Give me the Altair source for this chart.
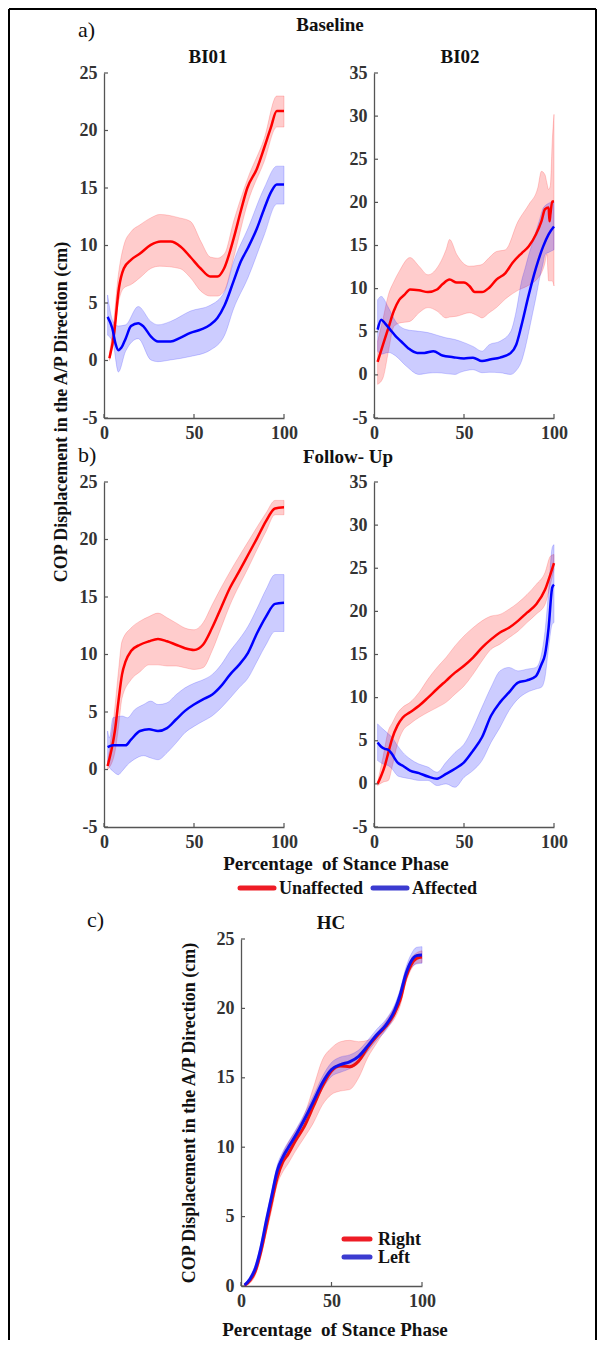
import altair as alt
import pandas as pd

FONT = "Liberation Serif"
RED = "#ff0000"
BLUE = "#0000ff"
AXC = "#555555"
LBL = "#333333"
TXT = "#111111"

# ---------------- a) Baseline, BI01 ----------------
a1_red_x = [3, 5.5, 8.3, 11, 15, 20, 26, 31.5, 37, 42.6, 48, 53.7, 59, 63, 66.7, 72, 76, 79.6, 85, 89, 92.6, 96, 100]
a1_red_m = [0.2, 2.2, 6.3, 8.0, 8.75, 9.3, 10.05, 10.35, 10.35, 9.9, 9.0, 8.0, 7.3, 7.3, 8.0, 10.6, 13.0, 15.0, 16.7, 18.5, 20.2, 21.7, 21.7]
a1_redb_x = [3, 5, 8, 11, 15, 20, 26, 31, 42, 48, 54, 59, 63, 67, 72, 80, 89, 96, 100]
a1_red_up = [0.6, 2.8, 7.5, 10.0, 11.2, 11.8, 12.4, 12.7, 12.4, 12.1, 10.3, 9.0, 8.9, 9.3, 12.1, 15.9, 19.3, 23.0, 23.0]
a1_red_lo = [0.0, 1.4, 5.0, 6.3, 6.6, 7.2, 8.0, 8.2, 8.0, 7.2, 6.0, 5.6, 5.6, 6.1, 8.9, 13.8, 17.3, 20.3, 20.3]
a1_blue_x = [2, 4.6, 6.5, 8, 9.6, 12, 15, 19, 22, 26, 30, 37, 42, 48, 54, 59, 63, 67, 72, 76, 80, 85, 89, 93, 96, 100]
a1_blue_m = [3.8, 2.8, 1.4, 0.9, 1.1, 1.9, 3.0, 3.25, 2.95, 2.1, 1.65, 1.65, 1.95, 2.4, 2.7, 3.1, 3.7, 4.8, 6.9, 8.6, 9.8, 11.5, 13.2, 14.7, 15.3, 15.3]
a1_blueb_x = [2, 5, 8, 12, 19, 26, 30, 37, 48, 59, 67, 72, 80, 89, 96, 100]
a1_blue_up = [5.7, 3.4, 3.0, 3.1, 4.7, 3.4, 3.1, 3.4, 4.3, 4.8, 6.0, 8.6, 11.5, 15.0, 16.9, 16.9]
a1_blue_lo = [2.2, 1.5, -1.0, 0.8, 1.9, 0.05, -0.1, 0.05, 0.35, 0.9, 2.2, 4.5, 7.2, 10.9, 13.6, 13.6]

# ---------------- a) Baseline, BI02 ----------------
a2_red_x = [2, 5, 8, 11, 14, 17, 20, 25, 30, 35, 38, 42, 46, 50, 53, 56, 60, 64, 68, 73, 77, 82, 86, 90, 93, 95, 97, 97.5, 98, 99, 100]
a2_red_m = [1.5, 3.5, 5.45, 7.4, 8.7, 9.3, 9.9, 9.8, 9.6, 9.9, 10.5, 11.05, 10.7, 10.7, 10.3, 9.6, 9.6, 10.1, 11.05, 11.8, 13.0, 14.1, 14.9, 16.3, 17.8, 19.2, 19.4, 17.8, 18.6, 20.1, 20.1]
a2_redb_x = [2, 5, 8, 11, 14, 20, 25, 30, 35, 40, 42, 46, 53, 58, 60, 64, 68, 73, 80, 86, 91, 93, 95, 96, 97, 98, 99, 100]
a2_red_up = [3.9, 6.5, 9.3, 10.8, 12.0, 13.6, 12.6, 11.6, 12.4, 14.5, 15.7, 13.95, 12.6, 12.7, 12.8, 13.6, 14.3, 14.5, 17.8, 19.75, 21.7, 23.6, 23.2, 22.3, 21.5, 22.0, 27.0, 30.2]
a2_red_lo = [-1.1, -0.35, 2.7, 5.6, 6.0, 6.2, 7.2, 7.8, 7.4, 6.6, 6.7, 6.8, 7.2, 6.8, 6.6, 7.2, 7.8, 8.8, 9.8, 10.4, 11.2, 11.8, 13.0, 14.0, 10.9, 10.9, 10.9, 10.3]
a2_blue_x = [2, 4, 6, 9, 12, 15, 19, 24, 28, 33, 38, 44, 50, 55, 60, 65, 70, 76, 79, 82, 86, 90, 94, 97, 100]
a2_blue_m = [5.25, 6.4, 6.0, 5.25, 4.5, 3.9, 3.1, 2.55, 2.55, 2.75, 2.25, 2.05, 1.9, 2.0, 1.6, 1.8, 2.0, 2.55, 3.5, 5.8, 9.3, 12.4, 14.9, 16.3, 17.2]
a2_blueb_x = [2, 4, 8, 12, 18, 25, 30, 35, 40, 45, 48, 55, 60, 64, 70, 76, 79, 82, 84, 86, 88, 90, 92, 94, 95, 97, 98, 100]
a2_blue_up = [8.7, 9.1, 7.8, 6.2, 5.25, 5.05, 4.9, 4.6, 4.3, 4.1, 3.9, 3.3, 2.75, 3.5, 3.9, 5.05, 7.4, 10.9, 12.4, 13.95, 15.3, 16.65, 18.0, 19.35, 19.6, 19.9, 20.0, 20.1]
a2_blue_lo = [2.75, 2.4, 2.6, 2.2, 1.0, 0.05, 0.2, 0.25, 0.15, 0.05, 0.3, 0.6, 0.25, 0.3, 0.25, 0.05, 0.5, 1.6, 3.1, 5.0, 7.0, 9.0, 11.2, 13.0, 13.95, 14.2, 14.3, 14.5]

# ---------------- b) Follow-Up, BI01 ----------------
b1_red_x = [2, 4, 6, 8, 10, 12, 15, 20, 25, 30, 35, 40, 45, 50, 55, 60, 65, 70, 75, 80, 85, 90, 95, 100]
b1_red_m = [0.3, 1.6, 3.3, 5.9, 8.25, 9.4, 10.3, 10.85, 11.15, 11.35, 11.15, 10.85, 10.55, 10.4, 10.85, 12.3, 14.05, 15.8, 17.2, 18.65, 20.1, 21.6, 22.7, 22.8]
b1_redb_x = [2, 6, 8, 10, 15, 20, 25, 30, 35, 40, 45, 50, 55, 60, 65, 70, 80, 90, 95, 100]
b1_red_up = [0.7, 5.35, 8.5, 11.15, 12.3, 12.9, 13.3, 13.6, 13.2, 12.75, 12.3, 12.15, 12.75, 14.3, 15.8, 17.2, 19.8, 22.3, 23.4, 23.4]
b1_red_lo = [0.0, 1.45, 3.6, 6.2, 7.8, 8.5, 9.1, 9.1, 9.0, 9.0, 8.85, 8.7, 8.85, 10.3, 12.3, 14.3, 17.5, 20.7, 22.15, 22.15]
b1_blue_x = [2, 5, 8, 12, 15, 20, 25, 30, 35, 40, 45, 50, 55, 60, 65, 70, 75, 80, 85, 90, 95, 100]
b1_blue_m = [1.95, 2.1, 2.1, 2.1, 2.6, 3.35, 3.5, 3.35, 3.6, 4.35, 5.1, 5.65, 6.1, 6.5, 7.25, 8.25, 9.1, 10.15, 11.85, 13.3, 14.4, 14.5]
b1_blueb_x = [2, 3, 5, 8, 10, 13, 17, 22, 26, 30, 35, 40, 45, 50, 55, 60, 65, 70, 75, 80, 85, 90, 95, 100]
b1_blue_up = [3.35, 2.75, 4.5, 4.6, 4.65, 4.5, 5.2, 5.65, 5.95, 5.65, 5.8, 6.5, 7.1, 7.5, 7.8, 8.25, 9.1, 10.3, 11.3, 12.45, 14.0, 15.65, 16.95, 16.95]
b1_blue_lo = [0.7, 0.2, -0.15, -0.45, -0.15, 0.4, 0.9, 1.2, 1.0, 0.85, 1.45, 2.3, 3.2, 3.75, 4.2, 4.65, 5.35, 6.2, 7.1, 7.95, 9.4, 10.85, 12.0, 12.0]

# ---------------- b) Follow-Up, BI02 ----------------
b2_red_x = [2, 4, 6, 8, 10, 13, 16, 20, 25, 30, 35, 40, 45, 50, 55, 60, 65, 70, 75, 80, 85, 90, 95, 98, 100]
b2_red_m = [0.0, 0.95, 2.1, 3.65, 5.2, 6.75, 7.7, 8.3, 9.05, 10.0, 11.0, 11.95, 12.9, 13.7, 14.65, 15.8, 16.75, 17.55, 18.1, 18.9, 19.85, 20.8, 22.5, 24.3, 25.6]
b2_redb_x = [2, 5, 8, 10, 13, 16, 20, 25, 30, 35, 40, 45, 50, 55, 60, 65, 70, 75, 80, 85, 90, 95, 98, 100]
b2_red_up = [0.2, 3.1, 6.2, 7.0, 8.2, 8.9, 9.45, 10.6, 12.15, 13.5, 14.65, 16.0, 17.15, 18.1, 18.9, 19.45, 19.65, 20.25, 21.0, 21.95, 23.1, 24.5, 26.4, 26.6]
b2_red_lo = [-0.2, 0.2, 0.4, 1.9, 4.6, 6.15, 6.95, 7.7, 8.3, 8.85, 9.45, 10.4, 11.35, 12.7, 14.25, 15.6, 16.2, 16.95, 17.7, 18.7, 19.65, 20.8, 23.1, 24.85]
b2_blue_x = [2, 4, 6, 8, 10, 13, 16, 20, 25, 30, 35, 40, 45, 50, 55, 60, 65, 70, 75, 80, 85, 90, 93, 95, 97, 99, 100]
b2_blue_m = [4.8, 4.3, 4.05, 3.95, 3.45, 2.5, 2.1, 1.55, 1.25, 0.85, 0.6, 1.15, 1.75, 2.5, 3.85, 5.4, 7.9, 9.45, 10.6, 11.75, 12.0, 12.5, 13.85, 15.0, 18.1, 22.75, 23.1]
b2_blueb_x = [2, 5, 8, 10, 13, 16, 20, 25, 30, 35, 40, 45, 50, 55, 60, 65, 70, 75, 80, 85, 90, 93, 95, 97, 99, 100]
b2_blue_up = [6.95, 6.35, 5.8, 5.4, 4.45, 3.65, 2.9, 2.3, 1.95, 1.35, 2.5, 3.65, 4.6, 6.55, 8.9, 11.2, 13.1, 13.5, 13.1, 13.3, 13.5, 15.0, 17.7, 22.35, 27.4, 27.75]
b2_blue_lo = [2.7, 2.3, 2.1, 1.75, 0.95, 0.75, 0.6, 0.4, 0.4, -0.2, 0.0, -0.4, 0.75, 1.55, 2.7, 4.8, 6.55, 8.5, 9.85, 10.6, 11.0, 11.2, 12.35, 15.8, 18.5, 18.7]

# ---------------- c) HC ----------------
c_x = [2, 5, 8, 11, 14, 17, 20, 23, 26, 30, 35, 40, 45, 50, 55, 60, 65, 70, 75, 80, 85, 88, 91, 94, 97, 100]
c_right_m = [0.05, 0.4, 1.1, 2.5, 4.3, 6.1, 7.8, 8.9, 9.5, 10.45, 11.5, 12.95, 14.4, 15.5, 15.85, 15.8, 16.2, 17.2, 18.0, 18.7, 19.7, 20.65, 22.2, 23.15, 23.6, 23.7]
c_right_up = [0.1, 0.6, 1.4, 2.9, 4.8, 6.7, 8.4, 9.5, 10.3, 11.15, 12.35, 14.3, 16.3, 17.15, 17.6, 17.7, 17.6, 17.7, 18.25, 19.1, 20.15, 21.0, 22.5, 23.6, 24.0, 24.15]
c_right_lo = [0.0, 0.2, 0.8, 2.1, 3.8, 5.5, 7.3, 8.2, 8.8, 9.7, 10.7, 11.75, 13.05, 13.8, 14.05, 14.15, 15.0, 16.45, 17.5, 18.5, 19.3, 20.2, 21.8, 22.8, 23.25, 23.3]
c_left_m = [0.07, 0.5, 1.3, 2.75, 4.7, 6.5, 8.3, 9.25, 9.95, 10.8, 12.0, 13.3, 14.65, 15.6, 15.95, 16.15, 16.55, 17.3, 18.1, 18.8, 19.9, 21.0, 22.45, 23.4, 23.8, 23.85]
c_left_up = [0.15, 0.7, 1.6, 3.1, 5.1, 6.9, 8.7, 9.65, 10.35, 11.2, 12.4, 13.7, 15.1, 16.1, 16.5, 16.65, 17.0, 17.7, 18.5, 19.2, 20.3, 21.4, 22.9, 23.9, 24.4, 24.45]
c_left_lo = [0.0, 0.3, 1.0, 2.4, 4.3, 6.1, 7.9, 8.85, 9.55, 10.4, 11.6, 12.9, 14.2, 15.1, 15.4, 15.65, 16.1, 16.9, 17.7, 18.4, 19.5, 20.6, 22.0, 22.9, 23.2, 23.25]

x_ticks = [0, 50, 100]
y_ticks_25 = [-5, 0, 5, 10, 15, 20, 25]
y_ticks_35 = [-5, 0, 5, 10, 15, 20, 25, 30, 35]
y_ticks_hc = [0, 5, 10, 15, 20, 25]


def band_df(x, up, lo):
    return pd.DataFrame({"x": x, "up": up, "lo": lo})


def line_df(x, y):
    return pd.DataFrame({"x": x, "y": y})


def panel(bands, lines, ydom, yticks, W, H, x0=0, x1=None, ytop=0, lw=2.5, extra=None):
    if x1 is None:
        x1 = W
    xs = alt.Scale(domain=[0, 100], nice=False, range=[x0, x1])
    ys = alt.Scale(domain=ydom, nice=False, zero=False, range=[H, ytop])
    xax = alt.Axis(values=x_ticks, ticks=False, grid=False, title=None,
                   labelExpr="'' + datum.value", labelPadding=6,
                   domainColor=AXC, domainWidth=1.3, labelFont=FONT,
                   labelFontSize=18, labelFontWeight="bold", labelColor=LBL,
                   labelFlush=False)
    yax = alt.Axis(values=yticks, ticks=False, grid=False, title=None,
                   labelExpr="'' + datum.value", labelPadding=7, offset=-x0,
                   domainColor=AXC, domainWidth=1.3, labelFont=FONT,
                   labelFontSize=18, labelFontWeight="bold", labelColor=LBL,
                   labelFlush=False)
    layers = []
    for (bx, up, lo, col, op) in bands:
        layers.append(
            alt.Chart(band_df(bx, up, lo)).mark_area(
                interpolate="monotone", fill=col, fillOpacity=op,
                stroke=col, strokeOpacity=0.22, strokeWidth=0.8
            ).encode(
                x=alt.X("x:Q", scale=xs, axis=xax),
                y=alt.Y("up:Q", scale=ys, axis=yax),
                y2="lo:Q",
            )
        )
    for (lx, ly, col) in lines:
        layers.append(
            alt.Chart(line_df(lx, ly)).mark_line(
                interpolate="monotone", color=col, strokeWidth=lw
            ).encode(
                x=alt.X("x:Q", scale=xs, axis=xax),
                y=alt.Y("y:Q", scale=ys, axis=yax),
            )
        )
    # inward tick marks
    layers.append(
        alt.Chart(pd.DataFrame({"v": x_ticks})).mark_rule(color=AXC, strokeWidth=1.2).encode(
            x=alt.X("v:Q", scale=xs, axis=xax), y=alt.value(H), y2=alt.value(H - 4)
        )
    )
    layers.append(
        alt.Chart(pd.DataFrame({"v": yticks})).mark_rule(color=AXC, strokeWidth=1.2).encode(
            y=alt.Y("v:Q", scale=ys, axis=yax), x=alt.value(x0), x2=alt.value(x0 + 4)
        )
    )
    if extra:
        layers.extend(extra)
    return alt.layer(*layers).properties(width=W, height=H)


def one():
    return pd.DataFrame({"k": [0]})


def txt(s, x, y, size=18, weight="bold", align="center", angle=0, color=TXT):
    return alt.Chart(one()).mark_text(
        text=s, font=FONT, fontSize=size, fontWeight=weight, align=align,
        baseline="middle", angle=angle, color=color
    ).encode(x=alt.value(x), y=alt.value(y))


def hrule(x1, x2, y, color, w, cap="butt"):
    return alt.Chart(one()).mark_rule(color=color, strokeWidth=w, strokeCap=cap).encode(
        x=alt.value(x1), x2=alt.value(x2), y=alt.value(y)
    )


def vrule(x, y1, y2, color, w):
    return alt.Chart(one()).mark_rule(color=color, strokeWidth=w).encode(
        x=alt.value(x), y=alt.value(y1), y2=alt.value(y2)
    )


W, H = 180, 345
XT = "Percentage \u00a0of Stance Phase"
YT = "COP Displacement in the A/P Direction (cm)"

# decorations (positions relative to the top-left panel's plot area)
deco = [
    vrule(-95, -64, 1267, "black", 2),
    hrule(-95, 492, -64, "black", 2),
    vrule(492, -64, 1267, "black", 2),
    txt("a)", -26, -43, size=22, weight="normal", align="left"),
    txt("Baseline", 226, -48, size=19),
    txt("BI01", 104, -16, size=19),
    txt("BI02", 356, -16, size=19),
    txt("b)", -26, 382, size=22, weight="normal", align="left"),
    txt("Follow- Up", 244, 384, size=19),
    txt(YT, -42, 339, size=18, angle=270),
    txt(XT, 232, 791, size=19),
    hrule(136, 170, 815, "#ee1c25", 5, "round"),
    txt("Unaffected", 175, 816, size=18, align="left"),
    hrule(269, 303, 815, "#3b3bd0", 5, "round"),
    txt("Affected", 308, 816, size=18, align="left"),
    txt("c)", -17, 847, size=22, weight="normal", align="left"),
    txt("HC", 227, 850, size=19),
    txt(YT, 86, 1040, size=18, angle=270),
    txt(XT, 231, 1257, size=19),
    hrule(240, 266, 1166, "#ee1c25", 5, "round"),
    txt("Right", 274, 1167, size=18, align="left"),
    hrule(240, 266, 1184, "#3b3bd0", 5, "round"),
    txt("Left", 274, 1185, size=18, align="left"),
]

a1 = panel(
    [(a1_redb_x, a1_red_up, a1_red_lo, RED, 0.2), (a1_blueb_x, a1_blue_up, a1_blue_lo, BLUE, 0.2)],
    [(a1_red_x, a1_red_m, RED), (a1_blue_x, a1_blue_m, BLUE)],
    [-5, 25], y_ticks_25, W, H, extra=deco,
)
a2 = panel(
    [(a2_redb_x, a2_red_up, a2_red_lo, RED, 0.2), (a2_blueb_x, a2_blue_up, a2_blue_lo, BLUE, 0.2)],
    [(a2_red_x, a2_red_m, RED), (a2_blue_x, a2_blue_m, BLUE)],
    [-5, 35], y_ticks_35, W, H,
)
b1 = panel(
    [(b1_redb_x, b1_red_up, b1_red_lo, RED, 0.2), (b1_blueb_x, b1_blue_up, b1_blue_lo, BLUE, 0.2)],
    [(b1_red_x, b1_red_m, RED), (b1_blue_x, b1_blue_m, BLUE)],
    [-5, 25], y_ticks_25, W, H,
)
b2 = panel(
    [(b2_redb_x, b2_red_up, b2_red_lo, RED, 0.2), (b2_blueb_x, b2_blue_up, b2_blue_lo, BLUE, 0.2)],
    [(b2_red_x, b2_red_m, RED), (b2_blue_x, b2_blue_m, BLUE)],
    [-5, 35], y_ticks_35, W, H,
)
C_X0, C_TOP, C_H = 137, 48, 347
c = panel(
    [(c_x, c_right_up, c_right_lo, RED, 0.2), (c_x, c_left_up, c_left_lo, BLUE, 0.2)],
    [(c_x, c_right_m, "#ee1111"), (c_x, c_left_m, "#1111ee")],
    [0, 25], y_ticks_hc, W, C_TOP + C_H, x0=C_X0, x1=C_X0 + 181, ytop=C_TOP, lw=3,
)

chart = alt.concat(
    a1, a2, b1, b2, c, columns=2,
    spacing={"row": 64, "column": 90}, bounds="flush", align="none",
).properties(
    padding=0, background="white"
).configure_view(stroke=None)

chart.save("out.html", embed_options={"renderer": "svg", "actions": False})
